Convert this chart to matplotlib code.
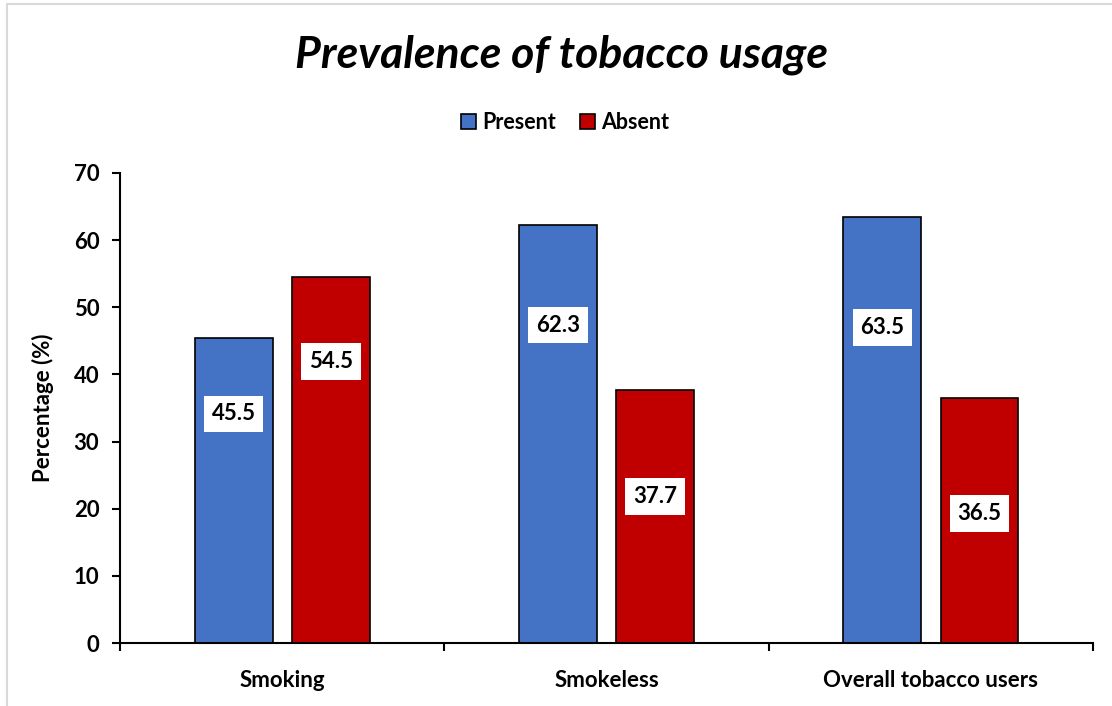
import matplotlib
matplotlib.use("Agg")
import matplotlib.pyplot as plt
import numpy as np
from matplotlib.patches import Rectangle

plt.rcParams['font.family'] = ['Lato', 'DejaVu Sans']

categories = ["Smoking", "Smokeless", "Overall tobacco users"]
present = [45.5, 62.3, 63.5]
absent = [54.5, 37.7, 36.5]
# where the value boxes sit, as a share of bar height
present_lab = [0.75, 0.76, 0.74]
absent_lab = [0.77, 0.58, 0.53]

blue = "#4472C4"
red = "#C00000"

fig = plt.figure(figsize=(11.12, 7.06), dpi=100)
ax = fig.add_axes([0.108, 0.089, 0.875, 0.666])

x = np.arange(len(categories))
w = 0.24
off = 0.15
b1 = ax.bar(x - off, present, w, color=blue, edgecolor="black", linewidth=1.2, label="Present", zorder=2)
b2 = ax.bar(x + off, absent, w, color=red, edgecolor="black", linewidth=1.2, label="Absent", zorder=2)

box = dict(boxstyle="square,pad=0.35", facecolor="white", edgecolor="none")
for i in range(len(categories)):
    ax.text(x[i] - off, present[i] * present_lab[i], f"{present[i]:.1f}", ha="center", va="center",
            fontsize=16, fontweight="bold", bbox=box, zorder=3)
    ax.text(x[i] + off, absent[i] * absent_lab[i], f"{absent[i]:.1f}", ha="center", va="center",
            fontsize=16, fontweight="bold", bbox=box, zorder=3)

ax.set_xlim(-0.5, len(categories) - 0.5)
ax.set_ylim(0, 70)
ax.set_yticks(range(0, 71, 10))
ax.set_xticks(x)
ax.set_xticklabels(categories, fontsize=16, fontweight="bold")
ax.set_xticks(np.arange(-0.5, len(categories), 1), minor=True)
ax.tick_params(axis="x", which="major", length=0, pad=19)
ax.tick_params(axis="x", which="minor", length=6, width=1.5, direction="out")
ax.tick_params(axis="y", length=6, width=1.5, direction="out", labelsize=16, pad=9)
for t in ax.get_yticklabels():
    t.set_fontweight("bold")

for s in ["top", "right"]:
    ax.spines[s].set_visible(False)
for s in ["left", "bottom"]:
    ax.spines[s].set_linewidth(1.5)

ax.set_ylabel("Percentage (%)", fontsize=16, fontweight="bold", labelpad=14)

fig.text(0.505, 0.922, "Prevalence of tobacco usage", ha="center", va="center",
         fontsize=32, fontweight="bold", fontstyle="italic")

fig.legend(handles=[b1, b2], loc="center", bbox_to_anchor=(0.508, 0.827), ncol=2, frameon=False,
           prop={"weight": "bold", "size": 15.5}, handlelength=0.7, handleheight=0.7,
           handletextpad=0.3, columnspacing=1.1)

fig.patches.append(Rectangle((0.006, -0.01), 1.0, 1.005, transform=fig.transFigure,
                             fill=False, edgecolor="#d9d9d9", linewidth=1.5))

fig.savefig("out.png", dpi=100)
